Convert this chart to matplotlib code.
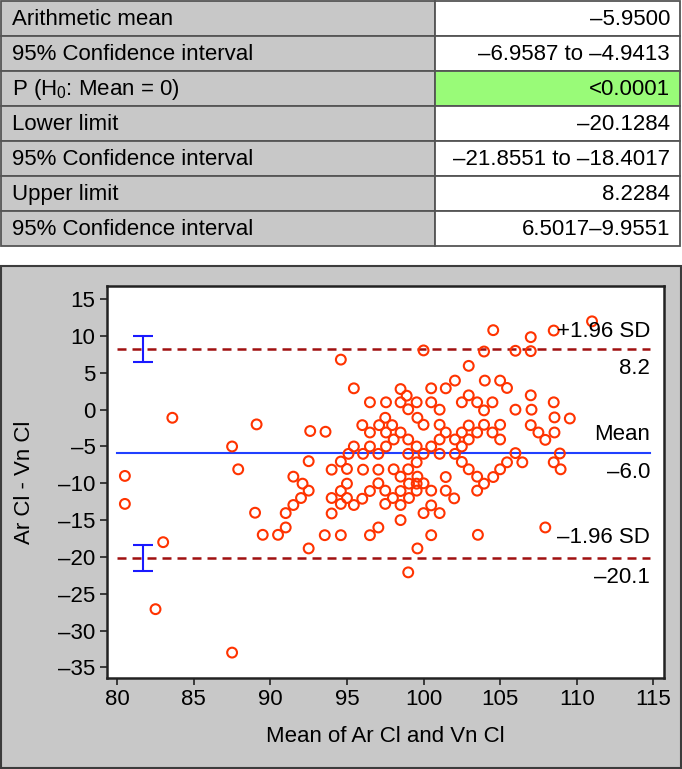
import matplotlib
matplotlib.use("Agg")
import matplotlib.pyplot as plt
from matplotlib.patches import Rectangle
from matplotlib.ticker import FuncFormatter, MultipleLocator

plt.rcParams['font.family'] = ['Liberation Sans', 'DejaVu Sans']
plt.rcParams['mathtext.fontset'] = 'custom'
plt.rcParams['mathtext.rm'] = 'Liberation Sans'

# summary table
row_labels = ['Arithmetic mean', '95% Confidence interval', r'P (H$_0$: Mean = 0)',
              'Lower limit', '95% Confidence interval', 'Upper limit',
              '95% Confidence interval']
row_values = ['–5.9500', '–6.9587 to –4.9413', '<0.0001', '–20.1284',
              '–21.8551 to –18.4017', '8.2284', '6.5017–9.9551']
highlight_row = 2

mean_diff = -5.95
lower_limit = -20.1284
upper_limit = 8.2284
lower_ci = [-21.8551, -18.4017]
upper_ci = [6.5017, 9.9551]

# Bland-Altman points: mean of the two methods, difference
mean_x = [80.5, 80.5, 83.6, 83.0, 82.5, 87.5, 87.5, 87.9, 89.1, 89.0,
          89.5, 90.5, 91.0, 91.0, 91.5, 91.5, 92.1, 92.0, 92.5, 92.5,
          92.6, 92.5, 93.6, 93.55, 94.0, 94.0, 94.0, 94.6, 94.6, 94.6,
          94.6, 94.6, 95.0, 95.0, 95.0, 95.1, 95.45, 95.45, 95.45, 96.0,
          96.05, 96.05, 96.0, 96.5, 96.5, 96.5, 96.5, 96.5, 97.05, 97.05,
          97.05, 97.05, 97.1, 97.5, 97.55, 97.55, 97.55, 97.5, 97.5, 97.95,
          98.05, 98.05, 98.0, 98.5, 98.5, 98.5, 98.5, 98.5, 98.5, 98.5,
          98.9, 99.0, 99.0, 99.0, 99.0, 99.05, 99.05, 99.0, 99.55, 99.6,
          99.55, 99.55, 99.6, 99.55, 99.55, 99.6, 100.0, 100.0, 100.0, 100.0,
          100.0, 100.5, 100.5, 100.5, 100.5, 100.5, 100.5, 101.05, 101.05, 101.05,
          101.05, 101.05, 101.45, 101.45, 101.45, 101.45, 102.05, 102.05, 102.05, 102.0,
          102.5, 102.5, 102.5, 102.5, 102.95, 102.95, 102.95, 102.95, 102.95, 103.5,
          103.5, 103.5, 103.5, 103.55, 103.95, 104.0, 103.95, 103.95, 103.95, 104.55,
          104.5, 104.5, 104.55, 105.0, 105.0, 105.0, 105.0, 105.45, 105.45, 106.0,
          106.0, 106.0, 106.45, 107.0, 107.0, 107.0, 107.05, 107.0, 107.5, 107.95,
          107.95, 108.5, 108.5, 108.55, 108.55, 108.5, 108.9, 108.95, 109.55, 111.0]
diff_y = [-9.0, -12.8, -1.1, -18.0, -27.1, -33.0, -5.0, -8.1, -2.0, -14.0,
          -17.0, -17.0, -16.0, -14.05, -9.1, -12.95, -10.05, -12.0, -11.0, -7.0,
          -2.9, -18.85, -3.0, -17.05, -8.15, -12.0, -14.1, 6.8, -7.05, -11.05,
          -12.8, -17.05, -8.05, -10.05, -12.0, -6.0, 2.9, -5.0, -12.95, -2.1,
          -6.0, -8.15, -12.1, 1.0, -3.1, -5.0, -11.05, -17.05, -6.0, -8.15,
          -10.0, -16.0, -2.1, -1.1, 1.0, -3.1, -5.0, -11.0, -12.8, -2.1,
          -4.05, -8.1, -12.0, 2.8, 1.0, -3.1, -9.1, -11.05, -12.95, -15.0,
          1.9, 0.05, -4.05, -6.0, -8.1, -10.05, -12.0, -22.1, 1.0, -1.1,
          -5.0, -7.15, -9.1, -10.05, -11.0, -18.85, -2.05, 8.05, -6.0, -10.0,
          -14.05, 2.9, 1.0, -5.0, -11.0, -13.0, -17.05, 0.0, -2.05, -4.05,
          -6.0, -14.05, 2.9, -3.1, -9.15, -11.0, 3.95, -4.05, -6.0, -12.05,
          1.0, -3.1, -5.0, -7.1, 5.95, 1.95, -2.15, -4.05, -8.1, 1.0,
          -3.1, -9.1, -11.0, -17.0, 7.9, 3.95, -0.1, -2.05, -10.05, 10.8,
          1.0, -3.1, -9.15, 3.95, -2.05, -4.05, -8.1, 2.95, -7.15, 8.0,
          0.0, -5.9, -7.15, 9.85, 7.95, 1.95, 0.0, -2.1, -3.1, -4.1,
          -16.0, 10.75, 1.0, -1.05, -3.1, -7.15, -5.95, -8.1, -1.2, 12.0]

W, H = 682, 769
fig = plt.figure(figsize=(W / 100, H / 100), dpi=100)
fig.patch.set_facecolor('white')

# background layer in pixel coordinates (table + gray panel)
bg = fig.add_axes([0, 0, 1, 1])
bg.set_xlim(0, W)
bg.set_ylim(H, 0)
bg.axis('off')

row_h = 35
split = 435
for i, (lab, val) in enumerate(zip(row_labels, row_values)):
    y0 = 1 + i * row_h
    bg.add_patch(Rectangle((1, y0), split - 1, row_h, facecolor='#c8c8c8',
                           edgecolor='#555555', lw=1.3))
    right_col = '#99fb78' if i == highlight_row else 'white'
    bg.add_patch(Rectangle((split, y0), W - 2 - split, row_h, facecolor=right_col,
                           edgecolor='#555555', lw=1.3))
    bg.text(12, y0 + row_h / 2 + 1, lab, fontsize=16, ha='left', va='center')
    bg.text(W - 12, y0 + row_h / 2 + 1, val, fontsize=16, ha='right', va='center')

bg.add_patch(Rectangle((1, 266), W - 2, H - 267, facecolor='#c8c8c8',
                       edgecolor='#3c3c3c', lw=1.5))

# Bland-Altman plot
ax = fig.add_axes([106.5 / W, 91 / H, (664 - 106.5) / W, (678 - 286) / H])
ax.set_facecolor('white')
ax.scatter(mean_x, diff_y, s=50, facecolors='none', edgecolors='#ff3300',
           linewidths=1.5, zorder=3)

x0, x1 = 80, 114.8
ax.plot([x0, x1], [mean_diff, mean_diff], color='#2040ff', lw=1.5, zorder=2)
for lim in (upper_limit, lower_limit):
    ax.plot([x0, x1], [lim, lim], color='#a01010', lw=1.8,
            linestyle=(0, (3.6, 2.4)), zorder=2)

for lo, hi in (upper_ci, lower_ci):
    mid = (lo + hi) / 2
    ax.errorbar([81.7], [mid], yerr=[[mid - lo], [hi - mid]], fmt='none',
                ecolor='#1a1aff', elinewidth=1.5, capsize=7.5, capthick=1.5,
                zorder=2)

def dash(v, p=None):
    return f'{v:g}'.replace('-', '–')

def one(v):
    return f'{v:.1f}'.replace('-', '–')

lab_kw = dict(fontsize=16, ha='right', va='center', zorder=4)
ax.text(x1, upper_limit + 2.45, '+1.96 SD', **lab_kw)
ax.text(x1, upper_limit - 2.7, one(upper_limit), **lab_kw)
ax.text(x1, mean_diff + 2.55, 'Mean', **lab_kw)
ax.text(x1, mean_diff - 2.6, one(mean_diff), **lab_kw)
ax.text(x1, lower_limit + 2.7, '–1.96 SD', **lab_kw)
ax.text(x1, lower_limit - 2.7, one(lower_limit), **lab_kw)

ax.set_xlim(79.3, 115.7)
ax.set_ylim(-36.45, 16.8)
ax.xaxis.set_major_locator(MultipleLocator(5))
ax.yaxis.set_major_locator(MultipleLocator(5))
ax.xaxis.set_major_formatter(FuncFormatter(dash))
ax.yaxis.set_major_formatter(FuncFormatter(dash))
ax.tick_params(direction='out', length=5, width=1.2, labelsize=16, pad=3,
               colors='#222222', labelcolor='black')
for sp in ax.spines.values():
    sp.set_linewidth(1.8)
    sp.set_color('#222222')

fig.text(24 / W, 1 - 482 / H, 'Ar Cl - Vn Cl', rotation=90, ha='center',
         va='center', fontsize=16)
fig.text(385 / W, 1 - 737 / H, 'Mean of Ar Cl and Vn Cl', ha='center',
         va='center', fontsize=16)

fig.savefig('out.png', dpi=100, facecolor=fig.get_facecolor())
